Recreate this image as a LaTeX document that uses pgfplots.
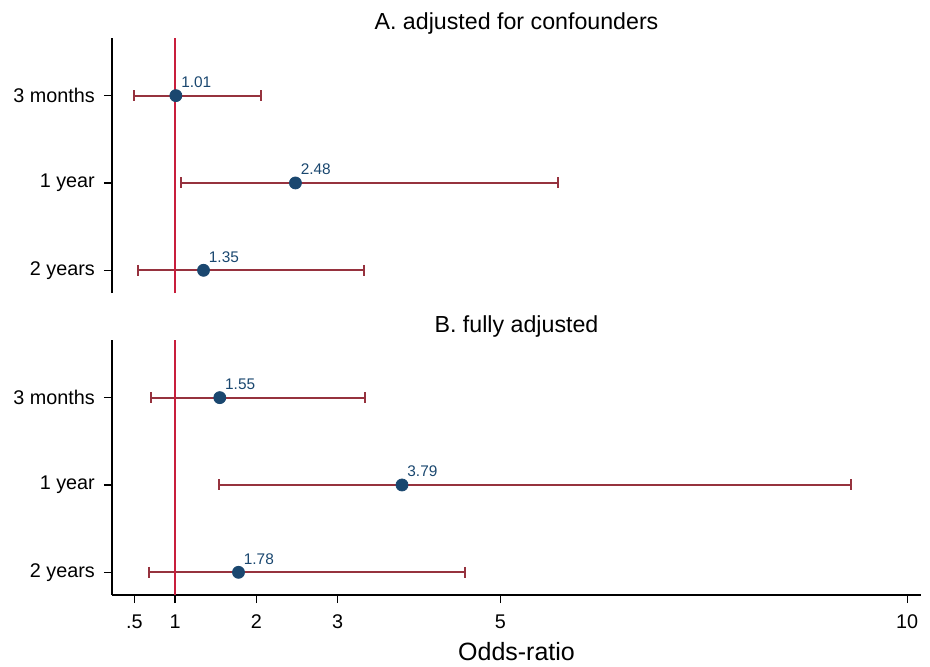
\documentclass[border=0pt]{standalone}
\usepackage{pgfplots}
\usepackage{pgfplotstable}
\pgfplotsset{compat=1.18}
\usepackage{fontspec}
\setmainfont{Liberation Sans}

\definecolor{stnavy}{RGB}{26,71,111}
\definecolor{stmaroon}{RGB}{150,50,62}
\definecolor{refred}{RGB}{200,30,60}

% odds ratios; row 3 = 3 months, 2 = 1 year, 1 = 2 years
\pgfplotstableread{
row or lab
3 1.01 1.01
2 2.48 2.48
1 1.35 1.35
}\adjusted
\pgfplotstableread{
row or lab
3 1.55 1.55
2 3.79 3.79
1 1.78 1.78
}\full

\pgfplotsset{
  forest/.style={
    scale only axis, width=404.5pt, height=127.5pt,
    xmin=0.225, xmax=10.17, ymin=0.74, ymax=3.66,
    ytick={1,2,3}, yticklabels={2 years,1 year,3 months},
    tick align=outside, major tick length=4pt,
    tick style={black, line width=0.6pt},
    axis line style={black, line width=0.7pt},
    every axis title/.style={at={(0.5,1)}, anchor=base, yshift=4pt,
      font=\fontsize{11.6}{13}\selectfont},
    yticklabel style={font=\fontsize{9.9}{12}\selectfont, inner sep=0pt,
      anchor=east, xshift=-4.4pt},
    clip=false,
  },
  ci/.style={stmaroon, line width=1pt, mark=|, mark size=2.75pt,
    mark options={solid, line width=1pt}, forget plot},
  pt/.style={only marks, mark=*, mark size=3pt, color=stnavy,
    point meta=explicit symbolic, nodes near coords,
    nodes near coords style={anchor=base west, xshift=2.5pt, yshift=4pt,
      inner sep=0pt, text=stnavy, font=\fontsize{7.7}{9}\selectfont}},
}

\begin{document}
\begin{tikzpicture}
\useasboundingbox (-56pt,-35.5pt) rectangle (409pt,297.5pt);

\begin{axis}[forest, at={(0,151pt)}, anchor=south west,
  axis y line*=left, axis x line=none,
  title={A. adjusted for confounders}]
  % 95% confidence intervals
  \addplot[ci] coordinates {(0.50,3) (2.06,3)};
  \addplot[ci] coordinates {(1.07,2) (5.71,2)};
  \addplot[ci] coordinates {(0.55,1) (3.32,1)};
  \addplot[refred, line width=1pt, mark=none] coordinates {(1,0.74) (1,3.66)};
  \addplot[pt] table[x=or, y=row, meta=lab] {\adjusted};
\end{axis}

\begin{axis}[forest, at={(0,0)}, anchor=south west,
  axis y line*=left, axis x line*=bottom,
  xtick={0.5,1,2,3,5,10}, xticklabels={.5,1,2,3,5,10},
  xticklabel style={font=\fontsize{9.9}{12}\selectfont, inner sep=0pt,
    anchor=north, yshift=-5.5pt},
  xlabel={Odds-ratio},
  xlabel style={at={(axis description cs:0.5,0)}, anchor=base, yshift=-32.5pt,
    font=\fontsize{12.5}{14}\selectfont},
  title={B. fully adjusted}]
  \addplot[ci] coordinates {(0.71,3) (3.34,3)};
  \addplot[ci] coordinates {(1.54,2) (9.31,2)};
  \addplot[ci] coordinates {(0.68,1) (4.57,1)};
  \addplot[refred, line width=1pt, mark=none] coordinates {(1,0.74) (1,3.66)};
  \addplot[pt] table[x=or, y=row, meta=lab] {\full};
\end{axis}
\end{tikzpicture}
\end{document}
